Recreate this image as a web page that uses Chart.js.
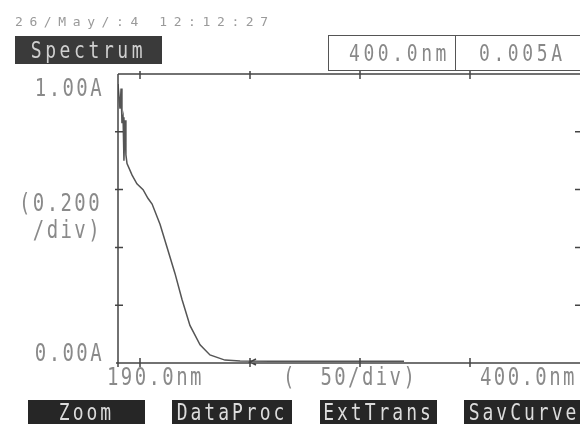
<!DOCTYPE html>
<html>
<head>
<meta charset="utf-8">
<script src="https://cdn.jsdelivr.net/npm/chart.js@4"></script>
<style>
  body { margin: 0; background: #fff; }
  #wrap { position: relative; width: 580px; height: 426px; overflow: hidden; font-family: "DejaVu Sans Mono", monospace; }
  #chart { position: absolute; left: 0; top: 0; }
  .t { position: absolute; white-space: pre; line-height: 1; }
  .tall { display: inline-block; transform: scaleY(1.3); }
  #stamp { left: 15px; top: 15px; font-size: 13px; letter-spacing: 6.6px; color: #9a9a9a; }
  #mode { left: 15px; top: 36px; width: 147px; height: 28px; background: #3a3a3a; color: #d0d0d0; font-size: 18px; letter-spacing: 3.6px; text-align: center; line-height: 28px; }
  #readout { left: 328px; top: 35px; width: 270px; height: 34px; border: 1.5px solid #555; background: #fff; }
  #readout div { position: absolute; top: 0; line-height: 34px; font-size: 18px; letter-spacing: 3.6px; color: #888; }
  #rdX { left: 20px; width: 106px; border-right: 1.5px solid #555; }
  #rdY { left: 150px; }
  .btn { top: 400px; height: 24px; background: #262626; color: #dcdcdc; font-size: 18px; letter-spacing: 3px; text-align: center; line-height: 24px; }
</style>
</head>
<body>
<div id="wrap">
  <canvas id="chart" width="580" height="426"></canvas>
  <div class="t" id="stamp">26/May/:4 12:12:27</div>
  <div class="t" id="mode"><span class="tall">Spectrum</span></div>
  <div class="t" id="readout"><div id="rdX"><span class="tall">400.0nm</span></div><div id="rdY"><span class="tall">0.005A</span></div></div>
  <div class="t btn" style="left:28px;width:117px;"><span class="tall">Zoom</span></div>
  <div class="t btn" style="left:172px;width:120px;"><span class="tall">DataProc</span></div>
  <div class="t btn" style="left:320px;width:117px;"><span class="tall">ExtTrans</span></div>
  <div class="t btn" style="left:464px;width:120px;"><span class="tall">SavCurve</span></div>
</div>
<script>
// spectrum (nm, absorbance)
const wavelength = [190.0, 190.9, 191.4, 191.8, 192.3, 192.7, 193.2, 193.6, 194.1, 196.4, 198.6, 201.4, 203.6, 205.5, 209.1, 212.7, 215.9, 219.1, 222.7, 227.3, 231.8, 238.6, 245.5, 260, 280, 300, 320];
const absorbance = [0.965, 0.88, 0.95, 0.83, 0.85, 0.70, 0.84, 0.72, 0.69, 0.65, 0.62, 0.60, 0.57, 0.55, 0.48, 0.39, 0.31, 0.22, 0.13, 0.063, 0.028, 0.010, 0.007, 0.006, 0.006, 0.006, 0.006];

// axis divisions and labels
const xTicks = [200, 250, 300, 350];
const yTicks = [0.2, 0.4, 0.6, 0.8];
const xRange = [190, 400];
const yRange = [0, 1];
const xEndLabels = ["190.0nm", "400.0nm"];
const yEndLabels = ["0.00A", "1.00A"];
const xDivLabel = "50/div)";
const yDivLabel = ["(0.200", "/div)"];

const ink = "#444";
const labelInk = "#8a8a8a";

// screen font is tall and narrow, so stretch each label vertically
function tallText(ctx, text, x, y) {
  ctx.save();
  ctx.translate(x, y);
  ctx.scale(1, 1.3);
  ctx.fillText(text, 0, 0);
  ctx.restore();
}

// draws the frame, tick crosses and the axis texts from the scales
const framePlugin = {
  id: "frame",
  afterDraw(chart) {
    const ctx = chart.ctx;
    const a = chart.chartArea;
    const xs = chart.scales.x;
    const ys = chart.scales.y;
    ctx.save();
    ctx.strokeStyle = ink;
    ctx.lineWidth = 1.5;
    ctx.beginPath();
    ctx.moveTo(a.left, a.top); ctx.lineTo(a.right, a.top);
    ctx.moveTo(a.left, a.top); ctx.lineTo(a.left, a.bottom + 4);
    ctx.moveTo(a.left - 2, a.bottom); ctx.lineTo(a.right, a.bottom);
    xTicks.forEach((v) => {
      const px = xs.getPixelForValue(v);
      ctx.moveTo(px, a.top - 3); ctx.lineTo(px, a.top + 5);
      ctx.moveTo(px, a.bottom - 5); ctx.lineTo(px, a.bottom + 4);
    });
    yTicks.forEach((v) => {
      const py = ys.getPixelForValue(v);
      ctx.moveTo(a.left - 3, py); ctx.lineTo(a.left + 5, py);
      ctx.moveTo(a.right - 5, py); ctx.lineTo(a.right, py);
    });
    // cursor arrow on the baseline
    const ax = xs.getPixelForValue(xTicks[1]);
    ctx.moveTo(ax + 6, a.bottom - 4); ctx.lineTo(ax, a.bottom - 1); ctx.lineTo(ax + 6, a.bottom + 2);
    ctx.stroke();

    ctx.fillStyle = labelInk;
    ctx.font = '19px "DejaVu Sans Mono"';
    ctx.letterSpacing = "2.4px";
    ctx.textBaseline = "middle";
    ctx.textAlign = "right";
    tallText(ctx, yEndLabels[1], a.left - 14, ys.getPixelForValue(yRange[1]) + 16);
    tallText(ctx, yEndLabels[0], a.left - 14, ys.getPixelForValue(yRange[0]) - 8);
    const mid = ys.getPixelForValue(0.5);
    tallText(ctx, yDivLabel[0], a.left - 16, mid - 14);
    tallText(ctx, yDivLabel[1], a.left - 16, mid + 13);
    ctx.textAlign = "left";
    const ly = a.bottom + 16;
    tallText(ctx, xEndLabels[0], xs.getPixelForValue(xRange[0]) - 11, ly);
    tallText(ctx, xEndLabels[1], xs.getPixelForValue(xRange[1]) - 100, ly);
    tallText(ctx, "(", xs.getPixelForValue(265), ly);
    tallText(ctx, xDivLabel, xs.getPixelForValue(282), ly);
    ctx.restore();
  }
};

const ctx = document.getElementById("chart").getContext("2d");
new Chart(ctx, {
  type: "line",
  data: {
    datasets: [{
      data: wavelength.map((w, i) => ({ x: w, y: absorbance[i] })),
      borderColor: "#555",
      borderWidth: 1.5,
      pointRadius: 0,
      tension: 0,
      fill: false,
    }],
  },
  options: {
    responsive: false,
    animation: false,
    layout: { padding: { left: 118, top: 74, right: 0, bottom: 63 } },
    plugins: { legend: { display: false }, tooltip: { enabled: false } },
    scales: {
      x: { type: "linear", min: xRange[0], max: xRange[1], display: false },
      y: { min: yRange[0], max: yRange[1], display: false },
    },
  },
  plugins: [framePlugin],
});
</script>
</body>
</html>
